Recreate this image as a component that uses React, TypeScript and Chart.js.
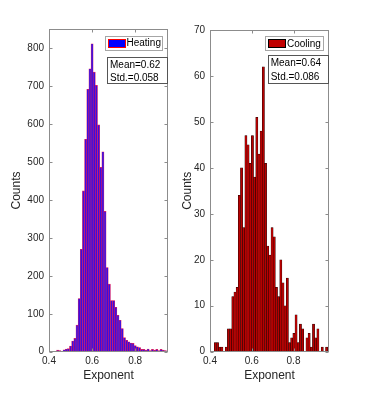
import React, { useEffect, useRef } from "react";
import { Chart, registerables } from "chart.js";

Chart.register(...registerables);

// ---------- data ----------
const heatingBins = [
  0.44, 0.45, 0.46, 0.47, 0.48, 0.49, 0.5, 0.51, 0.52, 0.53, 0.54, 0.55, 0.56,
  0.57, 0.58, 0.59, 0.6, 0.61, 0.62, 0.63, 0.64, 0.65, 0.66, 0.67, 0.68, 0.69,
  0.7, 0.71, 0.72, 0.73, 0.74, 0.75, 0.76, 0.77, 0.78, 0.79, 0.8, 0.81, 0.82,
  0.83, 0.84, 0.85, 0.86, 0.87, 0.88, 0.89, 0.9, 0.91, 0.92, 0.93, 0.94,
];
const heatingCounts = [
  4, 3, 1, 5, 7, 8, 15, 28, 35, 70, 140, 270, 424, 560, 692, 746, 812, 737, 702,
  598, 486, 527, 370, 222, 178, 135, 135, 117, 96, 83, 61, 37, 30, 26, 23, 22,
  16, 13, 11, 6, 6, 4, 7, 3, 6, 4, 6, 3, 6, 4, 3,
];

const coolingBins = [
  0.4257, 0.4361, 0.4466, 0.457, 0.4675, 0.4779, 0.4884, 0.4988, 0.5093, 0.5197,
  0.5302, 0.5406, 0.5511, 0.5615, 0.572, 0.5824, 0.5929, 0.6033, 0.6138, 0.6242,
  0.6347, 0.6451, 0.6556, 0.666, 0.6765, 0.6869, 0.6974, 0.7078, 0.7183, 0.7287,
  0.7392, 0.7496, 0.7601, 0.7705, 0.781, 0.7914, 0.8019, 0.8123, 0.8228, 0.8332,
  0.8437, 0.8541, 0.8646, 0.875, 0.8855, 0.8959, 0.9064, 0.9168, 0.9273, 0.9377,
  0.9482, 0.9586,
];
const coolingCounts = [
  2, 2, 1, 1, 0, 1, 5, 5, 12, 13, 14, 34, 40, 27, 47, 45, 41, 47, 38, 51, 43, 48,
  62, 41, 23, 21, 27, 25, 14, 12, 20, 15, 10, 16, 2, 3, 4, 8, 2, 6, 5, 0, 3, 4, 1,
  6, 3, 5, 0, 1, 0, 1,
];

const xTickValues = [0.4, 0.6, 0.8];
const heatingYTicks = [0, 100, 200, 300, 400, 500, 600, 700, 800];
const coolingYTicks = [0, 10, 20, 30, 40, 50, 60, 70];
const heatingStats = ["Mean=0.62", "Std.=0.058"];
const coolingStats = ["Mean=0.64", "Std.=0.086"];

const FONT = "'Liberation Sans', Arial, Helvetica, sans-serif";
const TEXT = "#262626";
const AXIS = "#8c8c8c";

const boxPlugin = {
  id: "matlabBox",
  afterDatasetsDraw(chart: any) {
    const { ctx, chartArea: a, scales } = chart;
    const L = Math.round(a.left) + 0.5;
    const R = Math.round(a.right) - 0.5;
    const T = Math.round(a.top) + 0.5;
    const B = Math.round(a.bottom) - 0.5;
    ctx.save();
    ctx.strokeStyle = AXIS;
    ctx.lineWidth = 1;
    ctx.strokeRect(L, T, R - L, B - T);
    const tl = 3;
    ctx.beginPath();
    scales.x.ticks.forEach((t: any) => {
      const px = Math.round(scales.x.getPixelForValue(t.value)) + 0.5;
      ctx.moveTo(px, B);
      ctx.lineTo(px, B - tl);
      ctx.moveTo(px, T);
      ctx.lineTo(px, T + tl);
    });
    scales.y.ticks.forEach((t: any) => {
      const py = Math.round(scales.y.getPixelForValue(t.value)) + 0.5;
      ctx.moveTo(L, py);
      ctx.lineTo(L + tl, py);
      ctx.moveTo(R, py);
      ctx.lineTo(R - tl, py);
    });
    ctx.stroke();
    ctx.restore();
  },
};

type Cfg = {
  label: string;
  bins: number[];
  counts: number[];
  yTicks: number[];
  xMax: number;
  yMax: number;
  fill: string;
  edge: string;
  edgeWidth: number;
  padTop: number;
  padRight: number;
  yAxisWidth: number;
  yTitlePad: number;
};

function makeChart(canvas: HTMLCanvasElement, cfg: Cfg) {
  return new Chart(canvas, {
    type: "bar",
    data: {
      datasets: [
        {
          label: cfg.label,
          data: cfg.bins.map((b, i) => ({ x: b, y: cfg.counts[i] })),
          backgroundColor: cfg.fill,
          borderColor: cfg.edge,
          borderWidth: cfg.edgeWidth,
          barPercentage: 1,
          categoryPercentage: 1,
        } as any,
      ],
    },
    options: {
      responsive: false,
      animation: false,
      devicePixelRatio: 1,
      layout: {
        padding: { top: cfg.padTop, right: cfg.padRight, left: 0, bottom: 0 },
      },
      plugins: { legend: { display: false }, tooltip: { enabled: false } },
      scales: {
        x: {
          type: "linear",
          min: 0.4,
          max: cfg.xMax,
          offset: false,
          grid: { display: false, drawTicks: false },
          border: { display: false },
          ticks: {
            autoSkip: false,
            maxRotation: 0,
            padding: 4,
            color: TEXT,
            font: { family: FONT, size: 10 },
            callback: (v: any) => Number(v).toFixed(1),
          },
          afterBuildTicks: (s: any) => {
            s.ticks = xTickValues.map((v) => ({ value: v }));
          },
          afterFit: (s: any) => {
            s.height = 43.3;
          },
          title: {
            display: true,
            text: "Exponent",
            color: TEXT,
            font: { family: FONT, size: 12 },
            padding: { top: 0, bottom: 11.8 },
          },
        },
        y: {
          type: "linear",
          min: 0,
          max: cfg.yMax,
          grid: { display: false, drawTicks: false },
          border: { display: false },
          ticks: {
            autoSkip: false,
            padding: 5,
            color: TEXT,
            font: { family: FONT, size: 10 },
          },
          afterBuildTicks: (s: any) => {
            s.ticks = cfg.yTicks.map((v) => ({ value: v }));
          },
          afterFit: (s: any) => {
            s.width = cfg.yAxisWidth;
          },
          title: {
            display: true,
            text: "Counts",
            color: TEXT,
            font: { family: FONT, size: 12 },
            padding: { top: cfg.yTitlePad, bottom: 0 },
          },
        },
      },
    } as any,
    plugins: [boxPlugin],
  });
}

function Legend(props: {
  left: number;
  top: number;
  width: number;
  height: number;
  text: string;
  fill: string;
  edge: string;
}) {
  return (
    <div
      style={{
        position: "absolute",
        left: props.left,
        top: props.top,
        width: props.width,
        height: props.height,
        boxSizing: "border-box",
        border: "1px solid #a6a6a6",
        background: "#fff",
        fontFamily: FONT,
        fontSize: 10,
        color: "#000",
      }}
    >
      <div
        style={{
          position: "absolute",
          left: 2,
          top: 2,
          width: 18,
          height: 9,
          boxSizing: "border-box",
          background: props.fill,
          border: `1px solid ${props.edge}`,
        }}
      />
      <div
        style={{
          position: "absolute",
          left: 21,
          top: 0,
          lineHeight: `${props.height - 2}px`,
          whiteSpace: "nowrap",
        }}
      >
        {props.text}
      </div>
    </div>
  );
}

function Stats(props: {
  left: number;
  top: number;
  width: number;
  height: number;
  lines: string[];
}) {
  return (
    <div
      style={{
        position: "absolute",
        left: props.left,
        top: props.top,
        width: props.width,
        height: props.height,
        boxSizing: "border-box",
        border: "1px solid #555",
        background: "#fff",
        fontFamily: FONT,
        fontSize: 10,
        color: "#000",
        paddingLeft: 2,
        paddingTop: 0,
        lineHeight: "13.5px",
        whiteSpace: "nowrap",
      }}
    >
      {props.lines.map((l) => (
        <div key={l}>{l}</div>
      ))}
    </div>
  );
}

export default function App() {
  const leftRef = useRef<HTMLCanvasElement>(null);
  const rightRef = useRef<HTMLCanvasElement>(null);

  useEffect(() => {
    const c1 = makeChart(leftRef.current!, {
      label: "Heating",
      bins: heatingBins,
      counts: heatingCounts,
      yTicks: heatingYTicks,
      xMax: 0.952,
      yMax: 850,
      fill: "#3a0ee0",
      edge: "rgba(235,0,60,0.85)",
      edgeWidth: 0.6,
      padTop: 29.3,
      padRight: 7,
      yAxisWidth: 49,
      yTitlePad: 9,
    });
    const c2 = makeChart(rightRef.current!, {
      label: "Cooling",
      bins: coolingBins,
      counts: coolingCounts,
      yTicks: coolingYTicks,
      xMax: 0.97,
      yMax: 70,
      fill: "#b80000",
      edge: "#1a0000",
      edgeWidth: 0.5,
      padTop: 30,
      padRight: 36,
      yAxisWidth: 40,
      yTitlePad: 10,
    });
    return () => {
      c1.destroy();
      c2.destroy();
    };
  }, []);

  return (
    <div
      style={{
        position: "fixed",
        left: 0,
        top: 0,
        width: 365,
        height: 395,
        background: "#fff",
        overflow: "hidden",
      }}
    >
      <canvas
        ref={leftRef}
        width={175}
        height={395}
        style={{ position: "absolute", left: 0, top: 0, display: "block" }}
      />
      <canvas
        ref={rightRef}
        width={195}
        height={395}
        style={{ position: "absolute", left: 170, top: 0, display: "block" }}
      />
      <Legend
        left={104.5}
        top={36}
        width={58.5}
        height={14.5}
        text="Heating"
        fill="#0000ff"
        edge="#ff0000"
      />
      <Stats left={107} top={56.7} width={61} height={27.3} lines={heatingStats} />
      <Legend
        left={265}
        top={35.5}
        width={59}
        height={15}
        text="Cooling"
        fill="#c00000"
        edge="#000000"
      />
      <Stats left={267.7} top={55} width={61.3} height={29} lines={coolingStats} />
    </div>
  );
}
